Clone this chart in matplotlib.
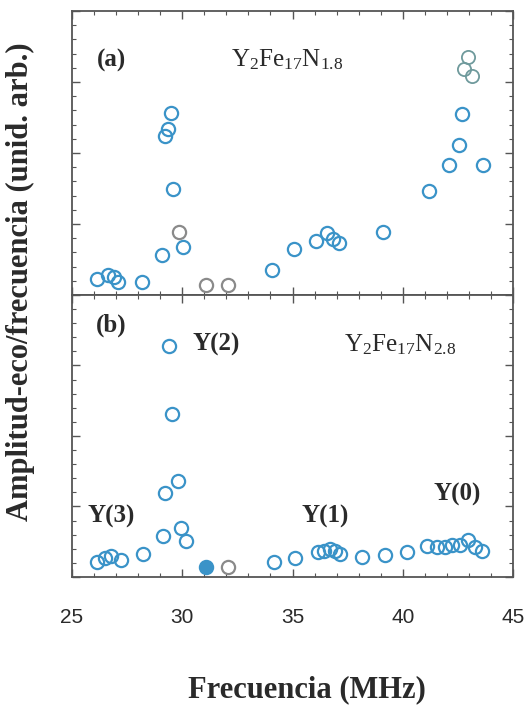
import matplotlib
matplotlib.use('Agg')
import matplotlib.pyplot as plt
from matplotlib.ticker import MultipleLocator

serif = 'Liberation Serif'
plt.rcParams['mathtext.fontset'] = 'custom'
plt.rcParams['mathtext.rm'] = serif
plt.rcParams['mathtext.it'] = serif + ':italic'
plt.rcParams['mathtext.bf'] = serif + ':bold'

# panel (a): Y2Fe17N1.8
a_freq = [26.15, 26.65, 26.9, 27.1, 28.17, 29.1, 29.23, 29.38, 29.49, 29.58, 30.05,
          34.08, 35.07, 36.07, 36.55, 36.82, 37.12, 39.12, 41.18, 42.08, 42.55, 42.7, 43.62]
a_amp = [0.55, 0.70, 0.64, 0.45, 0.47, 1.42, 5.60, 5.83, 6.42, 3.73, 1.70,
         0.88, 1.61, 1.90, 2.19, 1.98, 1.84, 2.23, 3.67, 4.59, 5.27, 6.38, 4.59]
a_gray_freq = [29.84, 31.1, 32.09]
a_gray_amp = [2.23, 0.34, 0.35]
a_top_freq = [42.93, 42.75, 43.11]
a_top_amp = [8.37, 7.96, 7.72]

# panel (b): Y2Fe17N2.8
b_freq = [26.12, 26.5, 26.77, 27.22, 28.23, 29.14, 29.22, 29.41, 29.56, 29.82, 29.97, 30.17,
          34.18, 35.11, 36.14, 36.44, 36.7, 36.93, 37.15, 38.14, 39.2, 40.18,
          41.09, 41.54, 41.92, 42.22, 42.57, 42.97, 43.28, 43.58]
b_amp = [0.54, 0.66, 0.76, 0.60, 0.80, 1.45, 2.97, 8.19, 5.77, 3.40, 1.74, 1.29,
         0.52, 0.68, 0.88, 0.93, 0.98, 0.92, 0.82, 0.70, 0.78, 0.90,
         1.10, 1.05, 1.07, 1.13, 1.12, 1.31, 1.07, 0.93]
b_filled_freq = [31.1]
b_filled_amp = [0.37]
b_gray_freq = [32.09]
b_gray_amp = [0.37]

blue = '#3a93c8'
gray = '#8a8a8a'
frame = '#555555'
ink = '#2a2a2a'

fig = plt.figure(figsize=(5.28, 7.05), dpi=100)
ax_a = fig.add_axes([0.136, 0.5816, 0.836, 0.4028])
ax_b = fig.add_axes([0.136, 0.1816, 0.836, 0.4000])

ms = 9.5
mew = 1.6
ax_a.plot(a_freq, a_amp, 'o', mfc='none', mec=blue, ms=ms, mew=mew)
ax_a.plot(a_gray_freq, a_gray_amp, 'o', mfc='none', mec=gray, ms=ms, mew=mew)
ax_a.plot(a_top_freq, a_top_amp, 'o', mfc='none', mec='#6f9a9c', ms=ms, mew=1.3)

ax_b.plot(b_freq, b_amp, 'o', mfc='none', mec=blue, ms=ms, mew=mew)
ax_b.plot(b_filled_freq, b_filled_amp, 'o', mfc=blue, mec=blue, ms=ms, mew=mew)
ax_b.plot(b_gray_freq, b_gray_amp, 'o', mfc='none', mec=gray, ms=ms, mew=mew)

for ax in (ax_a, ax_b):
    ax.set_xlim(25, 45)
    ax.set_ylim(0, 10)
    ax.xaxis.set_major_locator(MultipleLocator(5))
    ax.xaxis.set_minor_locator(MultipleLocator(1))
    ax.yaxis.set_major_locator(MultipleLocator(2.5))
    ax.yaxis.set_minor_locator(MultipleLocator(0.5))
    ax.tick_params(which='both', direction='in', top=True, right=True, color=frame)
    ax.tick_params(which='major', length=6, width=1)
    ax.tick_params(which='minor', length=3, width=0.8)
    ax.set_yticklabels([])
    for s in ax.spines.values():
        s.set_color(frame)
        s.set_linewidth(1.3)

ax_a.set_xticklabels([])
ax_b.set_xticks([25, 30, 35, 40, 45])
ax_b.set_xticklabels(['25', '30', '35', '40', '45'], family='Liberation Sans', size=15, color=ink)
ax_b.tick_params(axis='x', which='major', pad=22)

lab = dict(family=serif, weight='bold', size=18, color=ink, ha='center', va='center')
ax_a.text(26.8, 8.27, '(a)', **lab)
ax_b.text(26.8, 8.94, '(b)', **lab)
ax_b.text(31.55, 8.23, 'Y(2)', **lab)
ax_b.text(26.8, 2.13, 'Y(3)', **lab)
ax_b.text(36.5, 2.13, 'Y(1)', **lab)
ax_b.text(42.45, 2.91, 'Y(0)', **lab)

comp = dict(family=serif, size=18, color=ink, ha='center', va='center')
ax_a.text(34.75, 8.27, r'Y$_2$Fe$_{17}$N$_{1.8}$', **comp)
ax_b.text(39.9, 8.23, r'Y$_2$Fe$_{17}$N$_{2.8}$', **comp)

fig.text(0.582, 0.021, 'Frecuencia (MHz)', ha='center', va='center',
         family=serif, weight='bold', size=22, color=ink)
fig.text(0.038, 0.60, 'Amplitud-eco/frecuencia (unid. arb.)', ha='center', va='center',
         rotation=90, family=serif, weight='bold', size=22, color=ink)

plt.savefig('out.png', dpi=100)
